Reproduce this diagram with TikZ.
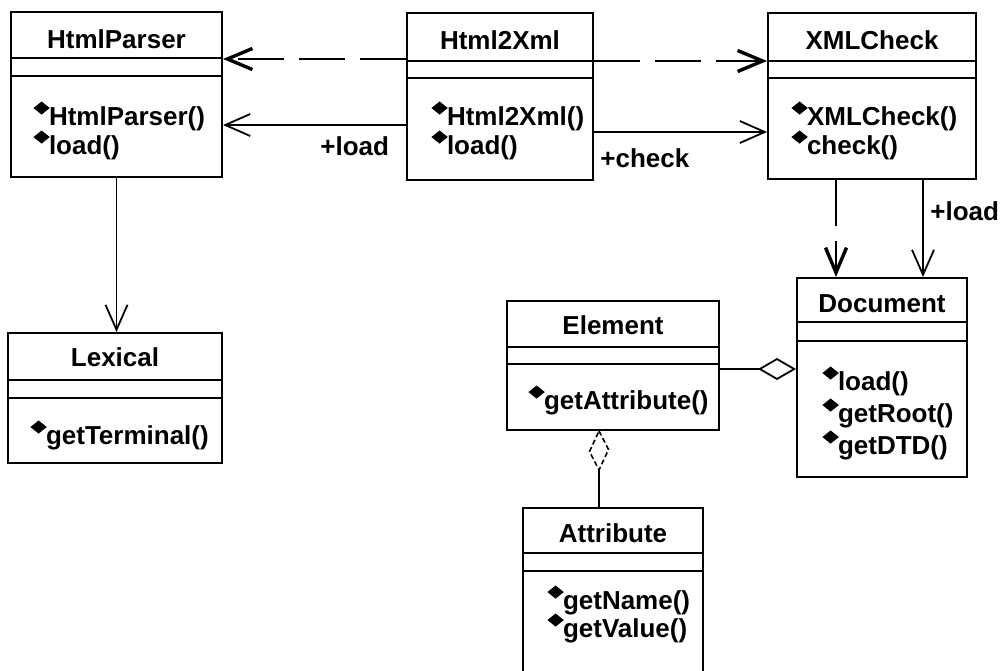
\documentclass[tikz,border=0pt]{standalone}
\usepackage{fontspec}
\setmainfont{Liberation Sans}
\usepackage{graphicx}
\usetikzlibrary{arrows.meta,fit}

% filled operation marker in front of each method
\newcommand\opmark{\raisebox{5.2pt}{\scalebox{1.0}[0.8]{\rotatebox{45}{\rule{5.8pt}{5.8pt}}}}\kern-0.4pt}

\tikzset{
  x=0.5pt, y=-0.5pt,
  classbox/.style={draw, line width=1pt, inner sep=0pt},
  sepline/.style={line width=1.2pt},
  classname/.style={font=\bfseries\fontsize{13pt}{15pt}\selectfont, anchor=base, inner sep=0pt},
  member/.style={font=\bfseries\fontsize{13pt}{15pt}\selectfont, anchor=base west, inner sep=0pt},
  rolename/.style={font=\bfseries\fontsize{13pt}{15pt}\selectfont, anchor=base west, inner sep=0pt},
  assoc/.style={line width=0.8pt, -{Straight Barb[length=12.5pt,width=11pt,line width=0.9pt]}},
  depend/.style={line width=0.9pt, dash pattern=on 23pt off 7.5pt,
                 -{Straight Barb[length=12.5pt,width=10.5pt,line width=1.7pt]}},
  aggr/.style={line width=0.8pt, -{Diamond[open,length=19pt,width=11pt,line width=0.9pt]}},
  finedash/.style={line width=0.8pt, dash pattern=on 2.5pt off 1.5pt},
}

\begin{document}
\begin{tikzpicture}
\path[use as bounding box] (0,0) rectangle (1000,670);
\clip (0,0) rectangle (1000,670);
\fill[white] (0,0) rectangle (1000,670);

% ---------- classes ----------
% HtmlParser
\node[classbox, fit={(11,12) (222,177)}] (hp) {};
\draw[sepline] (hp.west |- 0,58) -- (hp.east |- 0,58);
\draw[sepline] (hp.west |- 0,76) -- (hp.east |- 0,76);
\node[classname] (hpT) at (hp.center |- 0,48) {HtmlParser};
\node[member] (hpM1) at (33,125) {\opmark HtmlParser()};
\node[member] (hpM2) at (33,154) {\opmark load()};

% Html2Xml
\node[classbox, fit={(407,13) (593,180)}] (hx) {};
\draw[sepline] (hx.west |- 0,61) -- (hx.east |- 0,61);
\draw[sepline] (hx.west |- 0,78) -- (hx.east |- 0,78);
\node[classname] (hxT) at (hx.center |- 0,49) {Html2Xml};
\node[member] (hxM1) at (431,125) {\opmark Html2Xml()};
\node[member] (hxM2) at (431,154) {\opmark load()};

% XMLCheck
\node[classbox, fit={(768,13) (976,179)}] (xc) {};
\draw[sepline] (xc.west |- 0,61) -- (xc.east |- 0,61);
\draw[sepline] (xc.west |- 0,78) -- (xc.east |- 0,78);
\node[classname] (xcT) at (xc.center |- 0,49) {XMLCheck};
\node[member] (xcM1) at (791,125) {\opmark XMLCheck()};
\node[member] (xcM2) at (791,154) {\opmark check()};

% Lexical
\node[classbox, fit={(8,333) (222,463)}] (lex) {};
\draw[sepline] (lex.west |- 0,380) -- (lex.east |- 0,380);
\draw[sepline] (lex.west |- 0,398) -- (lex.east |- 0,398);
\node[classname] (lexT) at (lex.center |- 0,366) {Lexical};
\node[member] (lexM1) at (30,444) {\opmark getTerminal()};

% Element
\node[classbox, fit={(507,301) (719,430)}] (el) {};
\draw[sepline] (el.west |- 0,347) -- (el.east |- 0,347);
\draw[sepline] (el.west |- 0,364) -- (el.east |- 0,364);
\node[classname] (elT) at (el.center |- 0,334) {Element};
\node[member] (elM1) at (528,409) {\opmark getAttribute()};

% Document
\node[classbox, fit={(797,278) (967,477)}] (doc) {};
\draw[sepline] (doc.west |- 0,322) -- (doc.east |- 0,322);
\draw[sepline] (doc.west |- 0,341) -- (doc.east |- 0,341);
\node[classname] (docT) at (doc.center |- 0,312) {Document};
\node[member] (docM1) at (822,390) {\opmark load()};
\node[member] (docM2) at (822,422) {\opmark getRoot()};
\node[member] (docM3) at (822,454) {\opmark getDTD()};

% Attribute (runs past the lower edge)
\node[classbox, fit={(523,508) (703,700)}] (attr) {};
\draw[sepline] (attr.west |- 0,553) -- (attr.east |- 0,553);
\draw[sepline] (attr.west |- 0,571) -- (attr.east |- 0,571);
\node[classname] (attrT) at (attr.center |- 0,542) {Attribute};
\node[member] (attrM1) at (547,609) {\opmark getName()};
\node[member] (attrM2) at (547,637) {\opmark getValue()};

% ---------- relations ----------
% dependencies
\draw[depend] (hx.west |- 0,59) -- (hp.east |- 0,59);
\draw[depend] (hx.east |- 0,61) -- (xc.west |- 0,61);
\draw[depend] (xc.south -| 836,0) -- (doc.north -| 836,0);

% navigable associations
\draw[assoc] (hx.west |- 0,125) -- (hp.east |- 0,125);
\node[rolename] (roleA) at (320,155) {+load};
\draw[assoc] (hx.east |- 0,132) -- (xc.west |- 0,132);
\node[rolename] (roleB) at (600,167) {+check};
\draw[assoc] (xc.south -| 923,0) -- (doc.north -| 923,0);
\node[rolename] (roleC) at (930,220) {+load};
\draw[assoc] (hp.south) -- (lex.north -| hp.south);

% aggregation Document <>-- Element
\draw[aggr] (el.east |- 0,369) -- (doc.west |- 0,369);

% aggregation Element <>-- Attribute
\coordinate (dtop) at (el.south -| 599,0);
\coordinate (dbot) at (599,470);
\draw[finedash] (dtop) -- ++(9.5,18.5) -- (dbot) -- ++(-9.5,-18.5) -- cycle;
\draw[line width=0.8pt] (dbot) -- (attr.north -| dbot);
\end{tikzpicture}
\end{document}
